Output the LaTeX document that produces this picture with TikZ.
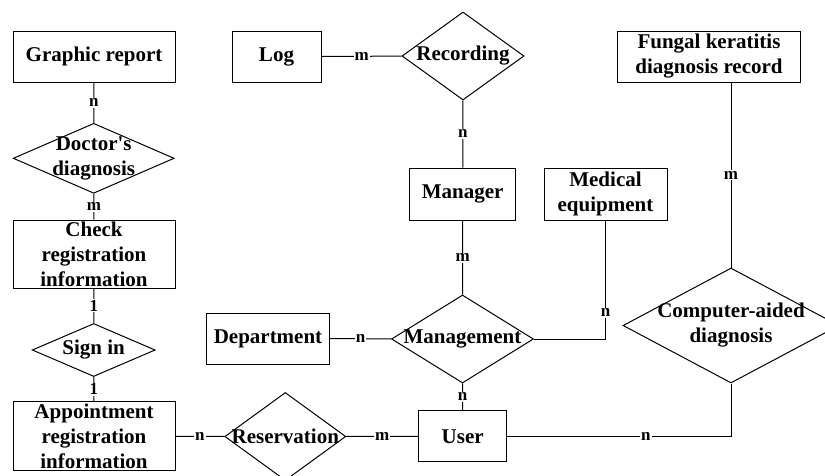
\documentclass[tikz,border=0pt]{standalone}
\usepackage{fontspec}
\setmainfont{Liberation Serif}
\usetikzlibrary{shapes.geometric}

\begin{document}
\begin{tikzpicture}[x=1pt, y=-1pt, line width=1pt,
	entity/.style={draw, rectangle, inner sep=0pt, align=center,
		font=\fontsize{21}{25}\selectfont\bfseries},
	rel/.style={draw, diamond, inner sep=0pt},
	reltext/.style={align=center, font=\fontsize{21}{25}\selectfont\bfseries},
	card/.style={fill=white, inner sep=1pt, font=\fontsize{17}{17}\selectfont\bfseries}]

% frame %{{{1

	\useasboundingbox (0,0) rectangle (825,475);
	\clip (0,0) rectangle (825,475);

% entities %{{{1

	\node[entity, minimum width=162, minimum height=51] (graphic) at (94,56.5) {Graphic report};
	\node[entity, minimum width=89, minimum height=51] (log) at (276.5,56.5) {Log};
	\node[entity, minimum width=183, minimum height=51] (fungal) at (709,56.5) {Fungal keratitis\\diagnosis record};
	\node[entity, minimum width=106, minimum height=52] (manager) at (462.7,194) {Manager};
	\node[entity, minimum width=123, minimum height=52] (medical) at (605.5,194) {Medical\\equipment};
	\node[entity, minimum width=162, minimum height=68] (check) at (94,254) {Check\\registration\\information};
	\node[entity, minimum width=123, minimum height=51] (department) at (268,338.5) {Department};
	\node[entity, minimum width=162, minimum height=69] (appointment) at (94,436.3) {Appointment\\registration\\information};
	\node[entity, minimum width=88, minimum height=51] (user) at (462.7,436.3) {User};

% relations %{{{1

	\node[rel, minimum width=122, minimum height=88, label={[reltext]center:Recording}] (recording) at (463,56) {};
	\node[rel, minimum width=161, minimum height=70, label={[reltext]center:Doctor\textquotesingle s\\diagnosis}] (doctor) at (93.7,158.3) {};
	\node[rel, minimum width=123, minimum height=53, label={[reltext]center:Sign in}] (signin) at (93.7,350) {};
	\node[rel, minimum width=142, minimum height=88, label={[reltext]center:Management}] (management) at (462.5,339) {};
	\node[rel, minimum width=216, minimum height=115, label={[reltext]center:Computer-aided\\diagnosis}] (cad) at (731,325.5) {};
	\node[rel, minimum width=121, minimum height=88, label={[reltext]center:Reservation}] (reservation) at (285.3,436.5) {};

% lines %{{{1

	\draw (log) -- node[card] {m} (recording);
	\draw (recording) -- node[card] {n} (manager);
	\draw (graphic) -- node[card] {n} (doctor);
	\draw (doctor) -- node[card] {m} (check);
	\draw (check) -- node[card] {1} (signin);
	\draw (signin) -- node[card] {1} (appointment);
	\draw (appointment) -- node[card] {n} (reservation);
	\draw (reservation) -- node[card] {m} (user);
	\draw (manager) -- node[card] {m} (management);
	\draw (department) -- node[card] {n} (management);
	\draw (management) -- node[card] {n} (user);
	\draw (fungal.south -| cad.north) -- node[card] {m} (cad.north);
	\draw (medical.south) |- node[card, pos=0.39] {n} (management.east);
	\draw (cad.south) |- node[card, pos=0.69] {n} (user.east);

% closing %{{{1

\end{tikzpicture}
\end{document}
